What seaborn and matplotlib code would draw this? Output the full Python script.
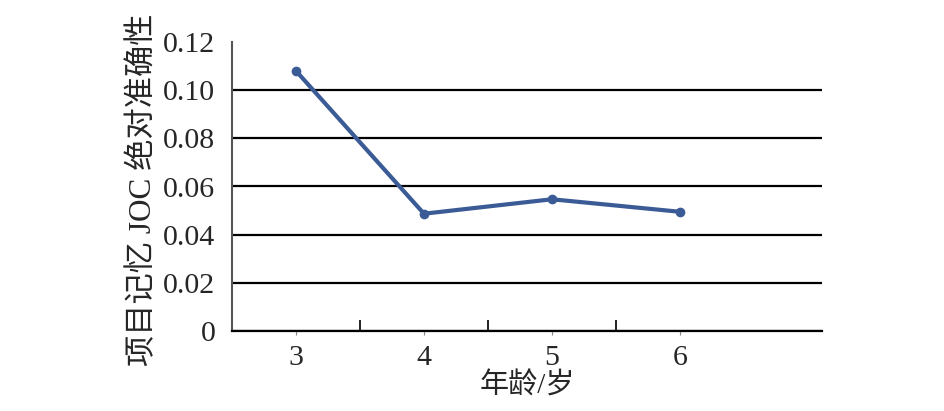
import matplotlib
matplotlib.use("Agg")
import matplotlib.pyplot as plt
import seaborn as sns
import pandas as pd

ages = ["3", "4", "5", "6"]
accuracy = [0.108, 0.0487, 0.0547, 0.0495]
yticks = [0, 0.02, 0.04, 0.06, 0.08, 0.10, 0.12]
ytick_labels = ["0", "0.02", "0.04", "0.06", "0.08", "0.10", "0.12"]
xlabel = "年龄/岁"
ylabel = "项目记忆 JOC 绝对准确性"

sns.set_theme(style="white")
plt.rcParams["font.family"] = ["Liberation Serif", "Noto Sans CJK SC"]

df = pd.DataFrame({"age": ages, "acc": accuracy})

fig = plt.figure(figsize=(9.45, 4.11), dpi=100)
ax = fig.add_axes([232/945, 1-331/411, (822-232)/945, (331-42)/411])

sns.lineplot(data=df, x="age", y="acc", ax=ax, color="#3B5B96", linewidth=3.0,
             marker="o", markersize=7, markeredgewidth=0, sort=False)

ax.set_xlim(-0.5, 4.11)
ax.set_ylim(0, 0.12)
ax.set_yticks(yticks)
ax.set_yticklabels(ytick_labels, fontsize=21.5)
ax.tick_params(axis="y", length=0, pad=12, left=False)

n = len(ages)
ax.tick_params(axis="x", which="both", bottom=True)
ax.set_xticks([i + 0.5 for i in range(n - 1)])
ax.set_xticklabels([])
ax.tick_params(axis="x", which="major", direction="in", length=8, width=1.4, color="#222222")
ax.set_xticks(range(n), minor=True)
ax.set_xticklabels(ages, minor=True, fontsize=21.5)
ax.tick_params(axis="x", which="minor", direction="out", length=3, width=0.8,
               color="#888888", pad=7)

ax.yaxis.grid(True, color="black", linewidth=1.6)
ax.xaxis.grid(False)
ax.set_axisbelow(True)
fig.canvas.draw()
gl = ax.yaxis.get_gridlines()
gl[-1].set_visible(False)

for s in ["top", "right"]:
    ax.spines[s].set_visible(False)
ax.spines["left"].set_color("#555555")
ax.spines["left"].set_linewidth(1.5)
ax.spines["bottom"].set_color("black")
ax.spines["bottom"].set_linewidth(1.6)

ax.set_xlabel(xlabel, fontsize=21, labelpad=1)
ax.set_ylabel(ylabel, fontsize=22.5)
ax.yaxis.set_label_coords(-0.125, 0.49)

fig.savefig("out.png", dpi=100)
